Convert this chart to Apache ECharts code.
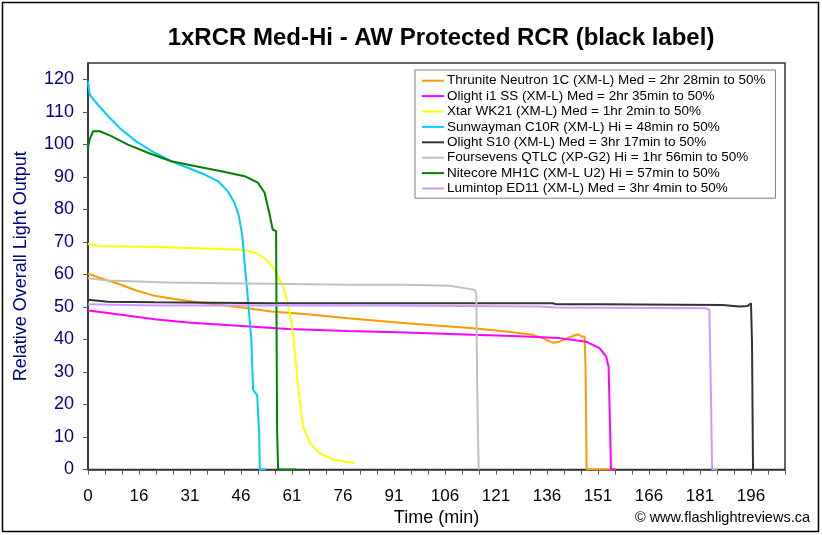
<!DOCTYPE html>
<html>
<head>
<meta charset="utf-8">
<script src="https://cdn.jsdelivr.net/npm/echarts@6/dist/echarts.min.js"></script>
<style>
html,body{margin:0;padding:0;background:#fff;}
#chart{width:822px;height:535px;}
</style>
</head>
<body>
<div id="chart"></div>
<script>
// ---- Data (time in minutes, relative output) ----
var seriesNames = [
  'Thrunite Neutron 1C (XM-L) Med = 2hr 28min to 50%',
  'Olight i1 SS (XM-L) Med = 2hr 35min to 50%',
  'Xtar WK21 (XM-L) Med = 1hr 2min to 50%',
  'Sunwayman C10R (XM-L) Hi = 48min ro 50%',
  'Olight S10 (XM-L) Med = 3hr 17min to 50%',
  'Foursevens QTLC (XP-G2) Hi = 1hr 56min to 50%',
  'Nitecore MH1C (XM-L U2) Hi = 57min to 50%',
  'Lumintop ED11 (XM-L) Med = 3hr 4min to 50%'
];
var xTickLabels = ['0','16','31','46','61','76','91','106','121','136','151','166','181','196'];
var yTickValues = [0,10,20,30,40,50,60,70,80,90,100,110,120];

var thruniteT = [0,3.0,5.9,9.8,13.8,19.7,25.6,32.5,39.4,47.2,54.1,64,76.8,94.1,113.8,123.6,131.5,134.4,137.4,139.4,142.3,143.8,144.9,145.9,146.8,147.1,147.4,155.6];
var thruniteV = [60.2,59.1,58.1,56.8,55.2,53.4,52.4,51.4,50.6,49.6,48.6,47.8,46.5,45.0,43.4,42.4,41.4,40.4,39.0,39.3,40.6,41.2,41.6,40.9,40.9,30.6,0,0];

var olightI1T = [0,5.9,19.7,29.5,44.3,59.1,76.8,94.1,113.8,127.5,139.4,147.3,151.2,153.2,153.9,154.4,154.6,156.1];
var olightI1V = [48.9,48.1,46.2,45.2,44.2,43.2,42.6,42.1,41.4,41.0,40.4,39.3,37.3,34.7,31.6,10.1,0,0];

var xtarT = [0,3.0,19.7,39.4,46.3,49.8,52.8,55.2,57.7,59.1,60.2,61.1,62.1,63.6,65.6,68.5,72.4,78.8];
var xtarV = [69.4,68.7,68.4,67.8,67.5,66.5,64.5,61.4,56.2,51.1,45.0,36.8,25.5,13.2,8.1,5.0,3.1,1.9];

var sunwaymanT = [0,0.5,2.0,5.9,9.8,14.8,19.7,24.6,29.5,34.5,38.4,41.3,43.3,44.6,45.6,46.4,47.3,48.3,48.8,50.0,50.6,50.8,52.6];
var sunwaymanV = [119.4,115.3,113.3,108.7,104.6,100.5,97.4,94.8,92.8,90.7,88.7,85.6,82.0,78.0,72.0,62.4,52.2,39.8,24.5,22.9,11.1,0,0];

var olightS10T = [0,5.9,19.7,55.1,137.4,138.4,151.2,187.6,192.5,195.0,196.0,196.3,196.5,196.6];
var olightS10V = [52.2,51.6,51.4,51.1,51.1,50.8,50.8,50.6,50.1,50.3,51.1,38.8,12.2,0];

var foursevensT = [0,5.9,23.6,39.4,54.1,76.8,93.1,106.9,111.8,114.3,114.8,115.0,115.3,115.5];
var foursevensV = [58.8,58.1,57.5,57.3,57.1,56.8,56.8,56.5,55.7,55.2,54.0,30,10,0];

var nitecoreT = [0,0.5,1.5,3.5,6.9,11.8,17.7,24.6,31.5,39.4,46.3,50.2,52.2,53.6,54.6,55.6,55.8,55.9,56.2,61.6];
var nitecoreV = [98.9,101.5,104,104,102.5,99.9,97.4,94.8,93.3,91.7,90.2,88.2,85.1,78.9,73.8,73.3,73.2,12.2,0,0];

var lumintopT = [0,19.7,76.8,133.5,138.4,182.7,183.7,184.2,184.5,186.1];
var lumintopV = [50.8,50.4,50.5,50.1,49.8,49.6,49.1,20.4,0,0];

var seriesT = [thruniteT, olightI1T, xtarT, sunwaymanT, olightS10T, foursevensT, nitecoreT, lumintopT];
var seriesV = [thruniteV, olightI1V, xtarV, sunwaymanV, olightS10V, foursevensV, nitecoreV, lumintopV];
var colors = ['#FF9900','#FF00FF','#FFFF00','#00CCFF','#333333','#C0C0C0','#008000','#CC99FF'];

// ---- Axis layout ----
var labelStep = 196 / (xTickLabels.length - 1);   // minutes between labelled ticks
var tickStep = labelStep / 3;                       // minor ticks
var xMax = tickStep * 41;
var xTicks = [];
for (var k = 0; k <= 41; k++) xTicks.push(k * tickStep);
var xLabelVals = xTickLabels.map(function (_, i) { return i * labelStep; });

function zip(t, v) { return t.map(function (x, i) { return [x, v[i]]; }); }

var FONT = "Arial, 'Liberation Sans', sans-serif";

var chart = echarts.init(document.getElementById('chart'), null, {renderer: 'canvas'});
chart.setOption({
  animation: false,
  backgroundColor: '#ffffff',
  color: colors,
  title: {
    text: '1xRCR Med-Hi - AW Protected RCR (black label)',
    left: 436, top: 21, textAlign: 'center',
    textStyle: {fontFamily: FONT, fontSize: 24, fontWeight: 'bold', color: '#000'}
  },
  legend: {
    orient: 'vertical',
    left: 415, top: 70,
    padding: [3, 10, 2, 7],
    itemGap: 0,
    itemWidth: 22, itemHeight: 2,
    icon: 'rect',
    backgroundColor: '#fff',
    borderColor: '#808080', borderWidth: 1,
    textStyle: {fontFamily: FONT, fontSize: 13.5, color: '#000', lineHeight: 15.4, padding: [0,0,0,-2]},
    data: seriesNames
  },
  grid: {
    left: 88, right: 37, top: 63, bottom: 65.5,
    show: true, borderColor: '#333', borderWidth: 1.5, backgroundColor: '#fff'
  },
  xAxis: {
    type: 'value', min: 0, max: xMax,
    name: 'Time (min)', nameLocation: 'middle', nameGap: 37,
    nameTextStyle: {fontFamily: FONT, fontSize: 18, color: '#000'},
    splitLine: {show: false},
    axisLine: {lineStyle: {color: '#333', width: 1.5}},
    axisTick: {customValues: xTicks, length: 5, lineStyle: {color: '#555'}},
    axisLabel: {
      customValues: xLabelVals, margin: 18,
      fontFamily: FONT, fontSize: 17, color: '#000',
      formatter: function (v) {
        var i = Math.round(v / labelStep);
        return xTickLabels[i] !== undefined ? xTickLabels[i] : '';
      }
    }
  },
  yAxis: {
    type: 'value', min: 0, max: 125,
    name: 'Relative Overall Light Output', nameLocation: 'middle', nameGap: 58,
    nameTextStyle: {fontFamily: FONT, fontSize: 18, color: '#000080'},
    splitLine: {show: false},
    axisLine: {lineStyle: {color: '#333', width: 1.5}},
    axisTick: {customValues: yTickValues, length: 5, lineStyle: {color: '#555'}},
    axisLabel: {
      customValues: yTickValues, margin: 14,
      fontFamily: FONT, fontSize: 18, color: '#000080'
    }
  },
  graphic: [
    {type: 'rect', shape: {x: 2.5, y: 2.5, width: 816, height: 529},
     style: {fill: 'none', stroke: '#000', lineWidth: 1.5}, silent: true, z: 100},
    {type: 'text', right: 12, top: 510,
     style: {text: '\u00A9 www.flashlightreviews.ca', fontFamily: FONT, fontSize: 14.5, fill: '#000'}}
  ],
  series: seriesNames.map(function (n, i) {
    return {
      name: n, type: 'line', data: zip(seriesT[i], seriesV[i]),
      showSymbol: false, symbol: 'none',
      lineStyle: {width: 2, color: colors[i]},
      itemStyle: {color: colors[i]},
      z: 2 + i
    };
  })
});
</script>
</body>
</html>
